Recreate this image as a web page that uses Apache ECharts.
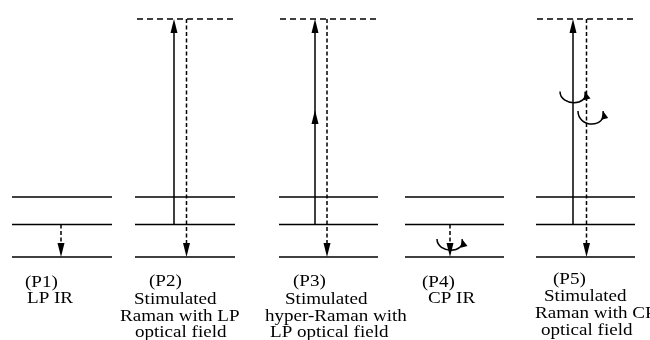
<!DOCTYPE html>
<html>
<head>
<meta charset="utf-8">
<script src="https://cdn.jsdelivr.net/npm/echarts@6/dist/echarts.min.js"></script>
<style>
  html, body { margin: 0; padding: 0; background: #fff; }
  #main { width: 650px; height: 340px; }
</style>
</head>
<body>
<div id="main"></div>
<script>
// energy scale: ground level = 0, first excited = 1 (arbitrary units)
const panelLeft = [12, 135, 279, 405, 536];
const panelRight = [112, 235, 378, 504, 635];
const levelE = [0, 1, 1.85];

// virtual level for the Raman-type processes (P2, P3, P5)
const virtualLeft = [137, 280, 537];
const virtualRight = [236, 380, 637];
const virtualE = 7.32;

// vertical transitions
const transX = [61, 174, 186.5, 315, 327, 450, 573, 586.5];
const transFrom = [1, 1, 7.32, 1, 7.32, 1, 1, 7.32];
const transTo = [0, 7.32, 0, 7.32, 0, 0, 7.32, 0];
const transDashed = [1, 0, 1, 0, 1, 1, 0, 1];
const transMidE = [null, null, null, 4.52, null, null, null, null];

// circular polarisation marks
const arcLeft = [437, 560, 578];
const arcRight = [462, 585, 603];
const arcE = [0.55, 5.09, 4.49];
const arcDepth = [0.34, 0.34, 0.4];

const captions = [
    ['(P1)', 'LP IR'],
    ['(P2)', 'Stimulated', 'Raman with LP', 'optical field'],
    ['(P3)', 'Stimulated', 'hyper-Raman with', 'LP optical field'],
    ['(P4)', 'CP IR'],
    ['(P5)', 'Stimulated', 'Raman with CP', 'optical field']
];

// where each caption line starts (left x, middle y) in pixels
const captionPos = [
    [[25, 283], [27, 299]],
    [[149, 282], [134, 300], [120, 317], [135, 333]],
    [[293, 282], [285, 300], [265, 317], [270, 333]],
    [[422, 283], [428, 299]],
    [[553, 280], [544, 297], [535, 314], [541, 331]]
];

let levelData = [];
panelLeft.forEach(function (l, i) {
    levelE.forEach(function (e) {
        levelData.push([l, panelRight[i], e, 0]);
    });
});
virtualLeft.forEach(function (l, i) {
    levelData.push([l, virtualRight[i], virtualE, 1]);
});

let transData = transX.map(function (x, i) {
    return [x, transFrom[i], transTo[i], transDashed[i]];
});

let arcData = arcLeft.map(function (l, i) {
    return [l, arcRight[i], arcE[i], arcDepth[i]];
});

function arrowHead(tip, dx, dy, len, halfW) {
    // dx, dy: unit direction the arrow points to
    let bx = tip[0] - dx * len, by = tip[1] - dy * len;
    return {
        type: 'polygon',
        shape: {points: [[tip[0], tip[1]], [bx - dy * halfW, by + dx * halfW], [bx + dy * halfW, by - dx * halfW]]},
        style: {fill: '#000'}
    };
}

let graphics = [];
captions.forEach(function (lines, i) {
    lines.forEach(function (t, j) {
        graphics.push({
            type: 'text',
            x: captionPos[i][j][0],
            y: captionPos[i][j][1],
            scaleX: 1.12,
            style: {
                text: t,
                fill: '#000',
                font: '17px "Liberation Serif"',
                textAlign: 'left',
                textVerticalAlign: 'middle'
            }
        });
    });
});

let myChart = echarts.init(document.getElementById('main'));

let option = {
    animation: false,
    grid: {left: 0, right: 0, top: 0, bottom: 0},
    xAxis: {type: 'value', min: 0, max: 650, show: false},
    yAxis: {type: 'value', min: -2.554, max: 7.908, show: false},
    graphic: graphics,
    series: [
        {
            type: 'custom',
            data: levelData,
            renderItem: function (params, api) {
                let a = api.coord([api.value(0), api.value(2)]);
                let b = api.coord([api.value(1), api.value(2)]);
                return {
                    type: 'line',
                    shape: {x1: a[0], y1: a[1], x2: b[0], y2: b[1]},
                    style: {stroke: '#000', lineWidth: 1.5, lineDash: api.value(3) ? [6, 4] : null}
                };
            }
        },
        {
            type: 'custom',
            data: transData,
            renderItem: function (params, api) {
                let p1 = api.coord([api.value(0), api.value(1)]);
                let p2 = api.coord([api.value(0), api.value(2)]);
                let dir = p2[1] > p1[1] ? 1 : -1;
                let headL = 14;
                let children = [
                    {
                        type: 'line',
                        shape: {x1: p1[0], y1: p1[1], x2: p2[0], y2: p2[1] - dir * headL * 0.5},
                        style: {stroke: '#000', lineWidth: 1.5, lineDash: api.value(3) ? [4, 2.5] : null}
                    },
                    arrowHead(p2, 0, dir, headL, 3.5)
                ];
                let mid = transMidE[params.dataIndex];
                if (mid != null) {
                    children.push(arrowHead(api.coord([api.value(0), mid]), 0, dir, headL, 3.5));
                }
                return {type: 'group', children: children};
            }
        },
        {
            type: 'custom',
            data: arcData,
            renderItem: function (params, api) {
                let a = api.coord([api.value(0), api.value(2)]);
                let b = api.coord([api.value(1), api.value(2)]);
                let bottom = api.coord([api.value(0), api.value(2) - api.value(3)]);
                let cy = a[1] + (bottom[1] - a[1]) / 0.75;
                let cp2x = b[0] + 4;
                let dx = b[0] - cp2x, dy = b[1] - cy;
                let n = Math.sqrt(dx * dx + dy * dy);
                return {
                    type: 'group',
                    children: [
                        {
                            type: 'bezierCurve',
                            shape: {x1: a[0], y1: a[1], x2: b[0], y2: b[1], cpx1: a[0], cpy1: cy, cpx2: cp2x, cpy2: cy},
                            style: {stroke: '#000', lineWidth: 1.5, fill: null}
                        },
                        arrowHead(b, dx / n, dy / n, 8, 3.5)
                    ]
                };
            }
        }
    ]
};

myChart.setOption(option);
</script>
</body>
</html>
